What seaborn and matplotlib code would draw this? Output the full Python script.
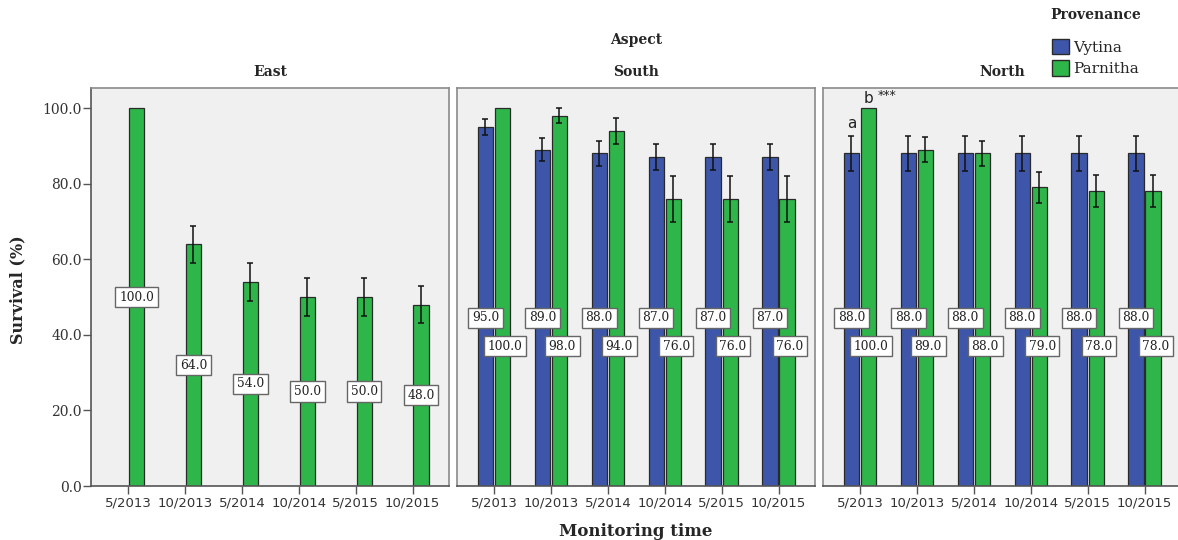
import numpy as np
import pandas as pd
import matplotlib
matplotlib.use("Agg")
import matplotlib.pyplot as plt
import seaborn as sns
from matplotlib.patches import Patch

# Chart data
times = ["5/2013", "10/2013", "5/2014", "10/2014", "5/2015", "10/2015"]
aspects = ["East", "South", "North"]
provenances = ["Vytina", "Parnitha"]

east_parnitha = [100, 64, 54, 50, 50, 48]
east_parnitha_err = [0, 4.9, 5.0, 5.0, 5.0, 5.0]

south_vytina = [95, 89, 88, 87, 87, 87]
south_vytina_err = [2.2, 3.1, 3.3, 3.4, 3.4, 3.4]
south_parnitha = [100, 98, 94, 76, 76, 76]
south_parnitha_err = [0, 2.0, 3.4, 6.1, 6.1, 6.1]

north_vytina = [88, 88, 88, 88, 88, 88]
north_vytina_err = [4.7, 4.7, 4.7, 4.7, 4.7, 4.7]
north_parnitha = [100, 89, 88, 79, 78, 78]
north_parnitha_err = [0, 3.3, 3.3, 4.1, 4.2, 4.2]

colors = {"Vytina": "#3d56a9", "Parnitha": "#2eb64a"}

# Build long table
series = [
    ("East", "Parnitha", east_parnitha, east_parnitha_err),
    ("South", "Vytina", south_vytina, south_vytina_err),
    ("South", "Parnitha", south_parnitha, south_parnitha_err),
    ("North", "Vytina", north_vytina, north_vytina_err),
    ("North", "Parnitha", north_parnitha, north_parnitha_err),
]
rows = []
errors = {}
for aspect, prov, vals, errs in series:
    errors[(aspect, prov)] = errs
    for t, v in zip(times, vals):
        rows.append([aspect, t, prov, v])
data = pd.DataFrame(rows, columns=["Aspect", "Time", "Provenance", "Survival"])

sns.set_style("ticks")
plt.rcParams["font.family"] = ["DejaVu Serif", "DejaVu Sans"]

W, H = 1178, 540
fig = plt.figure(figsize=(W / 100, H / 100), dpi=100)

panel_left = [91, 457, 823]
panel_w = 358
panel_bottom = 54
panel_h = 398

for i, aspect in enumerate(aspects):
    ax = fig.add_axes([panel_left[i] / W, panel_bottom / H, panel_w / W, panel_h / H])
    sub = data[data["Aspect"] == aspect]
    sns.barplot(data=sub, x="Time", y="Survival", hue="Provenance",
                order=times, hue_order=provenances, palette=colors,
                saturation=1, dodge=True,
                width=0.6, gap=0.1, errorbar=None, edgecolor="#2a2a2a",
                linewidth=0.9, legend=False, ax=ax)
    ax.set_facecolor("#f0f0f0")
    ax.set_xlim(-0.65, 5.64)
    ax.set_ylim(0, 105.3)
    ax.set_xlabel("")
    ax.set_ylabel("")
    for s in ax.spines.values():
        s.set_visible(True)
        s.set_color("#8a8a8a")
        s.set_linewidth(1.2)
    ax.spines["bottom"].set_color("#555555")
    ax.tick_params(axis="x", length=5.5, width=1, color="#555555", pad=2,
                   labelsize=9.5, labelcolor="#333333")
    for lab in ax.get_xticklabels():
        lab.set_family("DejaVu Sans")
    if i == 0:
        ax.set_yticks([0, 20, 40, 60, 80, 100])
        ax.set_yticklabels([f"{v:.1f}" for v in [0, 20, 40, 60, 80, 100]])
        ax.tick_params(axis="y", length=5.5, width=1, color="#555555", pad=1,
                       labelsize=10, labelcolor="#333333")
        ax.spines["left"].set_color("#555555")
    else:
        ax.set_yticks([])

    two_bars = aspect != "East"
    for bar in ax.patches:
        h = bar.get_height()
        if np.isnan(h):
            continue
        cx = bar.get_x() + bar.get_width() / 2
        idx = int(round(cx))
        prov = "Vytina" if cx < idx else "Parnitha"
        err = errors[(aspect, prov)][idx]
        if err > 0:
            ax.errorbar(cx, h, yerr=err, fmt="none", ecolor="#111111",
                        elinewidth=1.1, capsize=2.5, capthick=1.1, zorder=3)
        if two_bars:
            ly = 44.5 if prov == "Vytina" else 37.0
            lx = cx if prov == "Vytina" else cx + 0.05
        else:
            ly = h / 2
            lx = cx
        ax.text(lx, ly, f"{h:.1f}", ha="center", va="center", fontsize=8.8,
                color="#222222", zorder=4,
                bbox=dict(boxstyle="square,pad=0.3", facecolor="white",
                          edgecolor="#666666", linewidth=1))

    fig.text((panel_left[i] + panel_w / 2) / W, 1 - 72 / H, aspect,
             ha="center", va="center", fontsize=10, fontweight="bold")

    if aspect == "North":
        ax.text(0 - 0.15, 96, "a", ha="center", va="center", fontsize=11,
                family="DejaVu Sans", color="#222222")
        ax.text(0 + 0.15, 102.6, "b", ha="center", va="center", fontsize=11,
                family="DejaVu Sans", color="#222222")
        ax.text(0 + 0.48, 103.4, "***", ha="center", va="center", fontsize=9,
                family="DejaVu Sans", color="#222222")

fig.text(636 / W, 1 - 40 / H, "Aspect", ha="center", va="center",
         fontsize=10, fontweight="bold")
fig.text(18 / W, 1 - 290 / H, "Survival (%)", ha="center", va="center",
         rotation=90, fontsize=11.5, fontweight="bold")
fig.text(636 / W, 1 - 531 / H, "Monitoring time", ha="center", va="center",
         fontsize=12, fontweight="bold")

handles = [Patch(facecolor=colors[p], edgecolor="#2a2a2a", label=p) for p in provenances]
leg = fig.legend(handles=handles, title="Provenance", loc="upper left",
                 bbox_to_anchor=(1050 / W, 1 - 8 / H), frameon=False,
                 prop={"family": "DejaVu Serif", "size": 11},
                 title_fontproperties={"family": "DejaVu Serif", "weight": "bold", "size": 10},
                 handlelength=1.1, handleheight=1.2, handletextpad=0.25,
                 labelspacing=0.35, borderaxespad=0, borderpad=0)
leg._legend_box.sep = 12

fig.savefig("out.png", dpi=100)
